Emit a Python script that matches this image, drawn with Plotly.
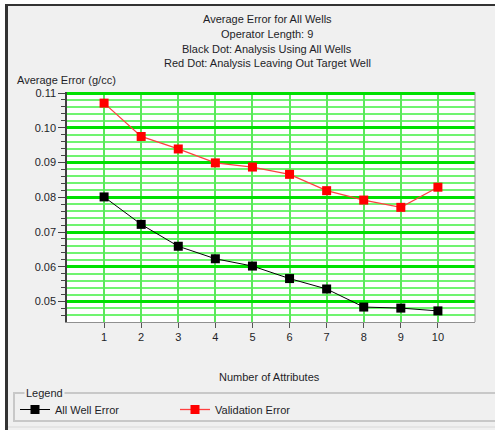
import plotly.graph_objects as go

attributes = [1, 2, 3, 4, 5, 6, 7, 8, 9, 10]
all_well_error = [0.0801, 0.0722, 0.0659, 0.0623, 0.0602, 0.0566, 0.0536, 0.0484, 0.0481, 0.0473]
validation_error = [0.1071, 0.0975, 0.0939, 0.0899, 0.0887, 0.0866, 0.0819, 0.0792, 0.0771, 0.0829]
ytick_vals = [0.05, 0.06, 0.07, 0.08, 0.09, 0.10, 0.11]
ytick_text = ["0.05", "0.06", "0.07", "0.08", "0.09", "0.10", "0.11"]
title_lines = ["Average Error for All Wells", "Operator Length: 9",
               "Black Dot: Analysis Using All Wells", "Red Dot: Analysis Leaving Out Target Well"]

W, H = 495, 430
L, R, T, B = 67, 20, 92, 108
PW, PH = W - L - R, H - T - B

def px(x):
    return (x - L) / PW

def py(y):
    return (H - B - y) / PH

FONT = "Liberation Sans"
TXT = "#1e1e28"

fig = go.Figure()
fig.add_trace(go.Scatter(x=attributes, y=all_well_error, name="All Well Error", mode="lines+markers",
                         line=dict(color="#000000", width=1),
                         marker=dict(symbol="square", size=9, color="#000000")))
fig.add_trace(go.Scatter(x=attributes, y=validation_error, name="Validation Error", mode="lines+markers",
                         line=dict(color="#ff4040", width=1.3),
                         marker=dict(symbol="square", size=9, color="#ff0000")))

shapes = []
# outer white margins and dark window border
shapes.append(dict(type="rect", xref="paper", yref="paper", x0=px(0), x1=px(W), y0=py(0), y1=py(4),
                   fillcolor="white", line=dict(width=0)))
shapes.append(dict(type="rect", xref="paper", yref="paper", x0=px(0), x1=px(5), y0=py(0), y1=py(H),
                   fillcolor="white", line=dict(width=0)))
shapes.append(dict(type="line", xref="paper", yref="paper", x0=px(5), x1=px(W), y0=py(5), y1=py(5),
                   line=dict(color="#333333", width=2)))
shapes.append(dict(type="line", xref="paper", yref="paper", x0=px(6.5), x1=px(6.5), y0=py(5), y1=py(H),
                   line=dict(color="#333333", width=3)))
shapes.append(dict(type="line", xref="paper", yref="paper", x0=px(8), x1=px(W), y0=py(427), y1=py(427),
                   line=dict(color="#d8d8d8", width=1)))
# plot frame right
shapes.append(dict(type="line", xref="paper", yref="paper", x0=1, x1=1, y0=0, y1=1,
                   line=dict(color="#909090", width=1)))
# legend group box
shapes.append(dict(type="rect", xref="paper", yref="paper", x0=px(14), x1=px(W + 5), y0=py(421), y1=py(393),
                   line=dict(color="#c8c8c8", width=2)))
fig.update_layout(shapes=shapes)

ann = []
for i, t in enumerate(title_lines):
    ann.append(dict(text=t, x=px(267), y=py(19 + i * 14.8), xref="paper", yref="paper",
                    showarrow=False, xanchor="center", yanchor="middle",
                    font=dict(family=FONT, size=11, color=TXT)))
ann.append(dict(text="Average Error (g/cc)", x=px(15), y=py(80), xref="paper", yref="paper",
                showarrow=False, xanchor="left", yanchor="middle", font=dict(family=FONT, size=11, color=TXT)))
ann.append(dict(text="Number of Attributes", x=px(269), y=py(377), xref="paper", yref="paper",
                showarrow=False, xanchor="center", yanchor="middle", font=dict(family=FONT, size=11, color=TXT)))
ann.append(dict(text="Legend", x=px(24), y=py(393), xref="paper", yref="paper", bgcolor="#f0f0f0",
                showarrow=False, xanchor="left", yanchor="middle", font=dict(family=FONT, size=11, color=TXT)))
fig.update_layout(annotations=ann)

fig.update_layout(
    width=W, height=H,
    margin=dict(l=L, r=R, t=T, b=B, pad=0, autoexpand=False),
    paper_bgcolor="#f0f0f0", plot_bgcolor="white",
    font=dict(family=FONT, size=11, color=TXT),
    showlegend=True,
    legend=dict(orientation="h", x=px(15), y=py(395), xanchor="left", yanchor="top",
                bgcolor="rgba(0,0,0,0)", entrywidth=115, entrywidthmode="pixels",
                itemwidth=30, font=dict(family=FONT, size=11, color=TXT)),
    xaxis=dict(range=[0, 11], tickvals=attributes, ticks="outside", ticklen=5, tickcolor="#555",
               showgrid=True, gridcolor="#5ce85c", gridwidth=2, zeroline=False,
               showline=True, linecolor="#909090", linewidth=1, fixedrange=True),
    yaxis=dict(range=[0.0441, 0.1103], tickvals=ytick_vals, ticktext=ytick_text,
               ticks="outside", ticklen=7, tickcolor="#444",
               showgrid=True, gridcolor="#00e000", gridwidth=2.5, zeroline=False,
               showline=True, linecolor="#404040", linewidth=1.5,
               minor=dict(dtick=0.002, tick0=0.05, showgrid=True, gridcolor="#70f470", gridwidth=1.5,
                          ticks="outside", ticklen=4, tickcolor="#444")),
)

fig.write_html("out.html", config={"displayModeBar": False},
               post_script="document.body.style.margin='0';")
